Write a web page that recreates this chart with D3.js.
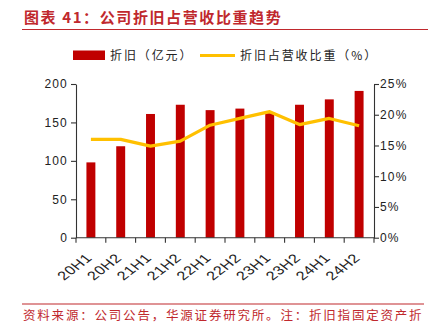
<!DOCTYPE html>
<html>
<head>
<meta charset="utf-8">
<script src="https://cdn.jsdelivr.net/npm/d3@7/dist/d3.min.js"></script>
<style>
  html, body { margin: 0; padding: 0; background: #fff; }
  svg { display: block; }
  text { font-family: "Liberation Sans", Arial, "Noto Sans CJK SC", sans-serif; }
  .cjk { font-family: "Noto Sans CJK SC", sans-serif; }
</style>
</head>
<body>
<svg id="chart" width="428" height="323"></svg>
<script>
// Half-year periods
const periods = ["20H1", "20H2", "21H1", "21H2", "22H1", "22H2", "23H1", "23H2", "24H1", "24H2"];
// Depreciation, 100 million yuan
const depreciation = [98, 119, 161, 173, 166, 168, 162, 173, 180, 191];
// Depreciation as share of revenue, %
const depShare = [16.0, 16.0, 14.9, 15.7, 18.3, 19.4, 20.5, 18.4, 19.4, 18.2];
const leftTicks = [0, 50, 100, 150, 200];
const rightTicks = [0, 5, 10, 15, 20, 25];

const red = "#c00000", gold = "#ffc000", titleRed = "#c0282d";
const svg = d3.select("#chart");

const plotL = 76, plotR = 374, plotT = 84, plotB = 237.7;

const x = d3.scaleBand().domain(periods).range([plotL, plotR]).paddingInner(0.7).paddingOuter(0.35);
const xb = d3.scaleBand().domain(periods).range([plotL, plotR]);
const yL = d3.scaleLinear().domain([0, 200]).range([plotB, plotT]);
const yR = d3.scaleLinear().domain([0, 25]).range([plotB, plotT]);

// Title
svg.append("text").attr("class", "cjk").attr("x", 24).attr("y", 23)
  .attr("fill", titleRed).attr("font-size", 15).attr("font-weight", "bold")
  .attr("letter-spacing", 1.6)
  .text("图表 41：公司折旧占营收比重趋势");
svg.append("line").attr("x1", 22).attr("x2", 428).attr("y1", 29.5).attr("y2", 29.5)
  .attr("stroke", titleRed).attr("stroke-width", 1.2);

// Legend
const lg = svg.append("g");
lg.append("rect").attr("x", 73).attr("y", 50.5).attr("width", 32).attr("height", 9.5).attr("fill", red);
lg.append("text").attr("class", "cjk").attr("x", 110).attr("y", 60).attr("font-size", 12)
  .attr("letter-spacing", 1.9).attr("fill", "#222").text("折旧（亿元）");
lg.append("line").attr("x1", 200).attr("x2", 235).attr("y1", 55.5).attr("y2", 55.5)
  .attr("stroke", gold).attr("stroke-width", 3);
lg.append("text").attr("class", "cjk").attr("x", 240).attr("y", 60).attr("font-size", 12)
  .attr("letter-spacing", 1.9).attr("fill", "#222").text("折旧占营收比重（%）");

// Bars
svg.append("g").selectAll("rect").data(periods).join("rect")
  .attr("x", d => x(d)).attr("width", x.bandwidth())
  .attr("y", (d, i) => yL(depreciation[i]))
  .attr("height", (d, i) => yL(0) - yL(depreciation[i]))
  .attr("fill", red);

// Share line
const line = d3.line().x((d, i) => xb(periods[i]) + xb.bandwidth() / 2).y(d => yR(d));
svg.append("path").datum(depShare).attr("d", line)
  .attr("fill", "none").attr("stroke", gold).attr("stroke-width", 3.2)
  .attr("stroke-linejoin", "round");

// Axes
const axisStyle = g => {
  g.selectAll("path, line").attr("stroke", "#333").attr("stroke-width", 1.1);
  g.selectAll("text").attr("fill", "#222").attr("font-size", 12)
    .attr("font-family", "'Liberation Sans', Arial, sans-serif").attr("letter-spacing", 1.2);
};

svg.append("g").attr("transform", `translate(${plotL},0)`)
  .call(d3.axisLeft(yL).tickValues(leftTicks).tickSize(5).tickSizeOuter(0).tickPadding(3))
  .call(axisStyle);

svg.append("g").attr("transform", `translate(${plotR},0)`)
  .call(d3.axisRight(yR).tickValues(rightTicks).tickFormat(d => d + "%").tickSize(5).tickSizeOuter(0).tickPadding(1))
  .call(axisStyle);

// Category axis: ticks at band boundaries, slanted labels (slightly widened)
const xg = svg.append("g").attr("transform", `translate(0,${plotB})`);
xg.append("line").attr("x1", plotL).attr("x2", plotR).attr("y1", 0).attr("y2", 0)
  .attr("stroke", "#333").attr("stroke-width", 1.1);
const edges = periods.map(p => xb(p)).concat([plotR]);
xg.selectAll("line.tk").data(edges).join("line").attr("class", "tk")
  .attr("x1", d => d).attr("x2", d => d).attr("y1", 0).attr("y2", 5)
  .attr("stroke", "#333").attr("stroke-width", 1.1);
const lab = xg.selectAll("g.lab").data(periods).join("g").attr("class", "lab")
  .attr("transform", d => `translate(${xb(d) + xb.bandwidth() / 2 - 2},${18}) scale(1.3,1)`);
lab.append("text")
  .attr("transform", "rotate(-45)")
  .attr("text-anchor", "end").attr("dy", "0.35em")
  .attr("font-size", 12.5).attr("letter-spacing", 0.4).attr("fill", "#222")
  .text(d => d);

// Source note
svg.append("line").attr("x1", 22).attr("x2", 424).attr("y1", 304).attr("y2", 304)
  .attr("stroke", titleRed).attr("stroke-width", 1.2);
svg.append("text").attr("class", "cjk").attr("x", 23).attr("y", 320).attr("font-size", 12.5)
  .attr("letter-spacing", 1.8).attr("fill", titleRed)
  .text("资料来源：公司公告，华源证券研究所。注：折旧指固定资产折");
</script>
</body>
</html>
